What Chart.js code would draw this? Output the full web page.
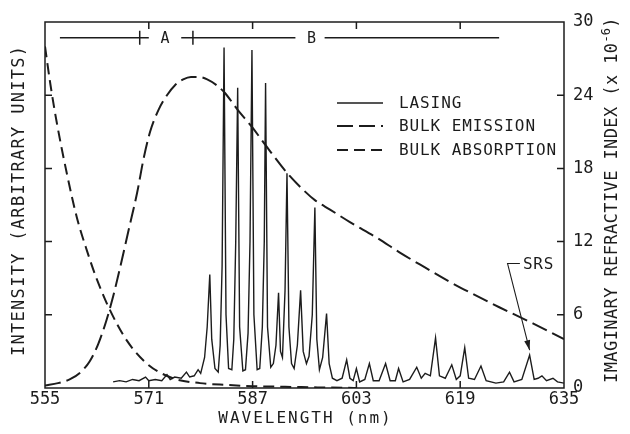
<!DOCTYPE html>
<html>
<head>
<meta charset="utf-8">
<script src="https://cdn.jsdelivr.net/npm/chart.js@4.4.1/dist/chart.umd.min.js"></script>
<style>
  html, body { margin: 0; padding: 0; background: #fff; }
  #wrap { width: 630px; height: 434px; }
</style>
</head>
<body>
<div id="wrap"><canvas id="chart"></canvas></div>
<script>
// Axis ticks
const xTicks = [555, 571, 587, 603, 619, 635];
const yTicks = [0, 6, 12, 18, 24, 30];

// Lasing spectrum (wavelength nm / value on right-hand scale)
const lasingNm = [
  565.5, 566.5, 567.5, 568.5, 569.5, 570.5, 571.0, 572.0, 573.0, 573.8,
  574.3, 575.0, 576.0, 576.8, 577.3, 578.0, 578.6, 579.0, 579.6, 580.0,
  580.4, 580.7, 581.2, 581.7, 582.0, 582.3, 582.6, 582.9, 583.3, 583.8,
  584.1, 584.4, 584.7, 585.0, 585.5, 585.9, 586.3, 586.6, 586.9, 587.2,
  587.7, 588.1, 588.5, 588.8, 589.0, 589.3, 589.8, 590.2, 590.6, 591.0,
  591.3, 591.6, 592.0, 592.3, 592.6, 593.0, 593.4, 593.9, 594.4, 594.8,
  595.3, 595.7, 596.2, 596.6, 596.9, 597.3, 597.8, 598.4, 598.8, 599.3,
  600.0, 600.8, 601.5, 602.0, 602.5, 603.0, 603.5, 604.3, 605.0, 605.6,
  606.5, 607.5, 608.2, 609.0, 609.5, 610.2, 611.2, 612.3, 613.0, 613.6,
  614.4, 615.2, 615.8, 616.7, 617.7, 618.4, 619.0, 619.7, 620.3, 621.2,
  622.2, 623.0, 624.5, 625.7, 626.6, 627.3, 628.5, 629.7, 630.4, 631.0,
  631.6, 632.3, 633.3, 634.0, 635.0
];
const lasingVal = [
  0.5, 0.6, 0.5, 0.7, 0.6, 0.9, 0.6, 0.7, 0.6, 1.1,
  0.7, 0.9, 0.8, 1.3, 0.9, 1.0, 1.5, 1.2, 2.5, 5.0,
  9.3, 4.0, 1.6, 1.3, 3.5, 10.0, 27.9, 6.0, 1.6, 1.5,
  4.0, 12.0, 24.6, 5.0, 1.4, 1.5, 4.5, 12.0, 27.7, 6.0,
  1.5, 1.6, 5.0, 12.0, 25.0, 5.0, 1.7, 2.0, 3.5, 7.8,
  3.0, 2.5, 8.0, 17.6, 5.0, 2.0, 1.6, 3.5, 8.0, 3.0,
  2.0, 2.6, 6.0, 14.8, 4.0, 1.5, 2.5, 6.1, 2.0, 0.8,
  0.6, 0.8, 2.3, 0.8, 0.6, 1.6, 0.5, 0.7, 2.0, 0.6,
  0.6, 2.0, 0.6, 0.6, 1.6, 0.5, 0.7, 1.7, 0.8, 1.2,
  1.0, 4.1, 1.0, 0.8, 1.9, 0.7, 1.0, 3.3, 0.8, 0.7,
  1.8, 0.6, 0.4, 0.5, 1.3, 0.5, 0.7, 2.7, 0.7, 0.8,
  1.0, 0.6, 0.8, 0.5, 0.4
];

// Bulk emission
const emissionNm = [
  555, 557, 558.8, 560.5, 561.9, 563.2, 564.5, 565.5, 566.5, 568,
  569.2, 570.2, 571.2, 572.5, 573.8, 575, 576.3, 577.5, 578.6, 580,
  581.5, 582.7, 584.7, 586.9, 589.0, 592.2, 594.5, 596.6, 599, 602,
  606.2, 609.7, 613.5, 617.4, 621, 625.1, 630.2, 635
];
const emissionVal = [
  0.2, 0.4, 0.7, 1.3, 2.2, 3.6, 5.6, 7.5, 9.7, 13.2,
  16.0, 18.8, 21.0, 22.8, 24.0, 24.8, 25.3, 25.5, 25.5, 25.3,
  24.8, 24.2, 22.8, 21.4, 19.9, 17.7, 16.4, 15.4, 14.6, 13.6,
  12.3, 11.1, 9.9, 8.7, 7.7, 6.6, 5.3, 4.0
];

// Bulk absorption
const absorptionNm = [
  555, 555.8, 556.8, 558.4, 559.9, 561.5, 563.0, 565.0, 567.6, 570.7,
  574.7, 578.9, 583, 587, 592, 597, 603
];
const absorptionVal = [
  28.0, 25.0, 21.8, 17.5, 14.0, 11.2, 8.9, 6.4, 3.9, 2.0,
  0.8, 0.4, 0.25, 0.15, 0.1, 0.05, 0
];

// Region bar along the top (A, B)
const barLevel = 28.7;
const barSegStart = [557.3, 576.0, 598.1];
const barSegEnd = [571.0, 593.6, 625.0];
const barTickNm = [569.6, 577.8];
const barLabels = ['A', 'B'];
const barLabelNm = [573.5, 596.1];

// SRS pointer
const srsLabel = 'SRS';
const srsCorner = [626.3, 10.2];
const srsBarEnd = 628.2;
const srsTip = [629.7, 3.1];

const ink = '#1c1c1c';
const mono = "'DejaVu Sans Mono', 'Liberation Mono', monospace";

function toPoints(xs, ys) {
  return xs.map((x, i) => ({ x: x, y: ys[i] }));
}

// text with letter spacing, centred on x
function spacedText(ctx, text, x, y, spacing) {
  ctx.letterSpacing = spacing + 'px';
  const w = ctx.measureText(text).width - spacing;
  ctx.textAlign = 'left';
  ctx.fillText(text, x - w / 2, y);
  ctx.letterSpacing = '0px';
}

const decorPlugin = {
  id: 'decor',
  afterDatasetsDraw(chart) {
    const { ctx, chartArea: a, scales } = chart;
    const sx = scales.x, sy = scales.y;
    ctx.save();
    ctx.strokeStyle = ink;
    ctx.fillStyle = ink;

    // frame + inward ticks
    ctx.lineWidth = 1.5;
    ctx.strokeRect(a.left, a.top, a.right - a.left, a.bottom - a.top);
    ctx.beginPath();
    xTicks.slice(1, -1).forEach(v => {
      const px = sx.getPixelForValue(v);
      ctx.moveTo(px, a.bottom); ctx.lineTo(px, a.bottom - 7);
      ctx.moveTo(px, a.top); ctx.lineTo(px, a.top + 7);
    });
    yTicks.slice(1, -1).forEach(v => {
      const py = sy.getPixelForValue(v);
      ctx.moveTo(a.left, py); ctx.lineTo(a.left + 7, py);
      ctx.moveTo(a.right, py); ctx.lineTo(a.right - 7, py);
    });
    ctx.stroke();

    // A / B bar
    const by = sy.getPixelForValue(barLevel);
    ctx.lineWidth = 1.5;
    ctx.beginPath();
    barSegStart.forEach((s, i) => {
      ctx.moveTo(sx.getPixelForValue(s), by);
      ctx.lineTo(sx.getPixelForValue(barSegEnd[i]), by);
    });
    barTickNm.forEach(t => {
      const px = sx.getPixelForValue(t);
      ctx.moveTo(px, by - 7); ctx.lineTo(px, by + 7);
    });
    ctx.stroke();
    ctx.font = '15px ' + mono;
    ctx.textBaseline = 'middle';
    barLabels.forEach((l, i) => spacedText(ctx, l, sx.getPixelForValue(barLabelNm[i]), by + 1, 0));

    // legend
    const lx0 = 337, lx1 = 383, ly = [103, 126, 150];
    chart.data.datasets.forEach((ds, i) => {
      ctx.lineWidth = ds.borderWidth;
      ctx.setLineDash(ds.borderDash || []);
      ctx.beginPath();
      ctx.moveTo(lx0, ly[i]); ctx.lineTo(lx1, ly[i]);
      ctx.stroke();
      ctx.setLineDash([]);
      ctx.font = '16px ' + mono;
      ctx.letterSpacing = '0.9px';
      ctx.textAlign = 'left';
      ctx.fillText(ds.label, 399, ly[i] + 1);
      ctx.letterSpacing = '0px';
    });

    // SRS pointer
    const cx = sx.getPixelForValue(srsCorner[0]), cy = sy.getPixelForValue(srsCorner[1]);
    const tx = sx.getPixelForValue(srsTip[0]), ty = sy.getPixelForValue(srsTip[1]);
    ctx.lineWidth = 1.1;
    ctx.beginPath();
    ctx.moveTo(sx.getPixelForValue(srsBarEnd), cy);
    ctx.lineTo(cx, cy);
    ctx.lineTo(tx, ty);
    ctx.stroke();
    const ang = Math.atan2(ty - cy, tx - cx);
    ctx.beginPath();
    ctx.moveTo(tx, ty);
    ctx.lineTo(tx - 10 * Math.cos(ang) + 3 * Math.sin(ang), ty - 10 * Math.sin(ang) - 3 * Math.cos(ang));
    ctx.lineTo(tx - 10 * Math.cos(ang) - 3 * Math.sin(ang), ty - 10 * Math.sin(ang) + 3 * Math.cos(ang));
    ctx.closePath();
    ctx.fill();
    ctx.font = '16px ' + mono;
    ctx.letterSpacing = '0.8px';
    ctx.textAlign = 'left';
    ctx.fillText(srsLabel, sx.getPixelForValue(srsBarEnd) + 3, cy + 1);
    ctx.letterSpacing = '0px';

    // axis titles
    ctx.font = '16px ' + mono;
    spacedText(ctx, 'WAVELENGTH (nm)', (a.left + a.right) / 2, 419, 2);

    ctx.font = '17px ' + mono;
    ctx.save();
    ctx.translate(20, 201);
    ctx.rotate(-Math.PI / 2);
    spacedText(ctx, 'INTENSITY (ARBITRARY UNITS)', 0, 0, 1.3);
    ctx.restore();

    // right title with superscript
    ctx.save();
    ctx.translate(613, 200);
    ctx.rotate(-Math.PI / 2);
    const main = 'IMAGINARY REFRACTIVE INDEX (x 10';
    ctx.font = '17px ' + mono;
    ctx.letterSpacing = '0.4px';
    const wMain = ctx.measureText(main).width;
    const wClose = ctx.measureText(')').width;
    ctx.font = '12px ' + mono;
    ctx.letterSpacing = '0.2px';
    const wSup = ctx.measureText('-6').width;
    let x0 = -(wMain + wSup + wClose) / 2;
    ctx.textAlign = 'left';
    ctx.font = '17px ' + mono;
    ctx.letterSpacing = '0.4px';
    ctx.fillText(main, x0, 0);
    ctx.font = '12px ' + mono;
    ctx.letterSpacing = '0.2px';
    ctx.fillText('-6', x0 + wMain, -6);
    ctx.font = '17px ' + mono;
    ctx.letterSpacing = '0.4px';
    ctx.fillText(')', x0 + wMain + wSup, 0);
    ctx.restore();

    ctx.restore();
  }
};

new Chart(document.getElementById('chart'), {
  type: 'line',
  data: {
    datasets: [
      {
        label: 'LASING',
        data: toPoints(lasingNm, lasingVal),
        borderColor: ink, borderWidth: 1.4,
        pointRadius: 0, tension: 0
      },
      {
        label: 'BULK EMISSION',
        data: toPoints(emissionNm, emissionVal),
        borderColor: ink, borderWidth: 2, borderDash: [16, 6],
        pointRadius: 0, cubicInterpolationMode: 'monotone'
      },
      {
        label: 'BULK ABSORPTION',
        data: toPoints(absorptionNm, absorptionVal),
        borderColor: ink, borderWidth: 2, borderDash: [11, 6],
        pointRadius: 0, cubicInterpolationMode: 'monotone'
      }
    ]
  },
  options: {
    responsive: true,
    maintainAspectRatio: false,
    animation: false,
    devicePixelRatio: 1,
    events: [],
    layout: { padding: { left: 45, top: 22, right: 0, bottom: 0 } },
    plugins: { legend: { display: false }, tooltip: { enabled: false } },
    scales: {
      x: {
        type: 'linear', min: 555, max: 635,
        afterBuildTicks: s => { s.ticks = xTicks.map(v => ({ value: v })); },
        afterFit: s => { s.height = 46; },
        grid: { display: false, drawTicks: false },
        border: { display: false },
        ticks: { color: ink, padding: 1, maxRotation: 0, autoSkip: false, font: { family: mono, size: 17 } }
      },
      y: {
        position: 'right', min: 0, max: 30,
        afterBuildTicks: s => { s.ticks = yTicks.map(v => ({ value: v })); },
        afterFit: s => { s.width = 66; },
        grid: { display: false, drawTicks: false },
        border: { display: false },
        ticks: { color: ink, padding: 9, font: { family: mono, size: 17 } }
      }
    }
  },
  plugins: [decorPlugin]
});
</script>
</body>
</html>
